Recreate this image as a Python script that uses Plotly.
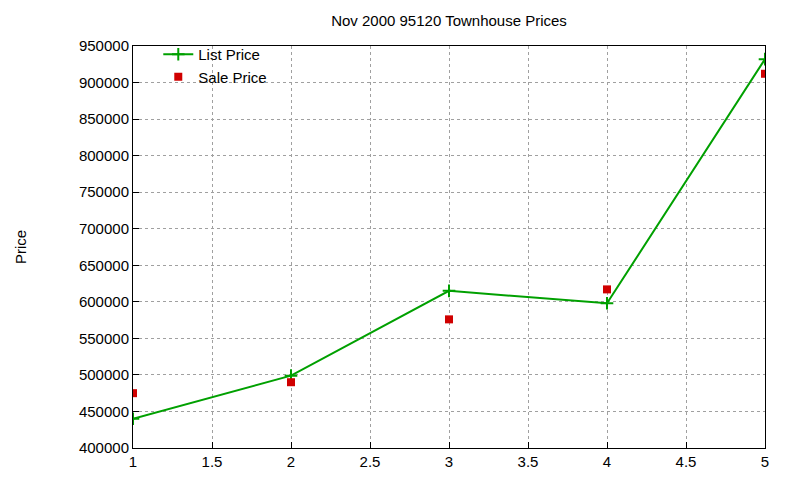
import plotly.graph_objects as go

x_vals = [1, 2, 3, 4, 5]
list_price = [440000, 499000, 615000, 598000, 932000]
sale_price = [475000, 490000, 576000, 617000, 912000]

fig = go.Figure()
fig.add_trace(go.Scatter(x=x_vals, y=list_price, mode="lines+markers", name="List Price",
                         line=dict(color="#00a000", width=2),
                         marker=dict(symbol="cross-thin", size=9, line=dict(color="#00a000", width=2))))
fig.add_trace(go.Scatter(x=x_vals, y=sale_price, mode="markers", name="Sale Price",
                         marker=dict(symbol="square", size=8, color="#d00000")))

axis_common = dict(showline=True, linecolor="black", linewidth=1, mirror=True,
                   ticks="inside", ticklen=6, tickcolor="black",
                   showgrid=True, gridcolor="#a0a0a0", griddash="dot", gridwidth=1,
                   zeroline=False, tickfont=dict(size=15, color="black"))

fig.update_layout(
    width=800, height=480,
    paper_bgcolor="white", plot_bgcolor="white",
    font=dict(family="Liberation Sans, Arial, sans-serif", color="black"),
    title=dict(text="Nov 2000 95120 Townhouse Prices", x=0.5, xref="paper", y=0.985,
               yanchor="top", font=dict(size=15)),
    margin=dict(l=111, r=43, t=38, b=40),
    xaxis=dict(range=[1, 5], dtick=0.5, **axis_common),
    yaxis=dict(range=[400000, 950000], dtick=50000, tickformat="d",
               title=dict(text="Price", font=dict(size=15), standoff=48), **axis_common),
    legend=dict(x=0.04, y=1.02, xanchor="left", yanchor="top", bgcolor="rgba(0,0,0,0)",
                font=dict(size=15), tracegroupgap=0),
    showlegend=True,
)

fig.write_html("out.html")
